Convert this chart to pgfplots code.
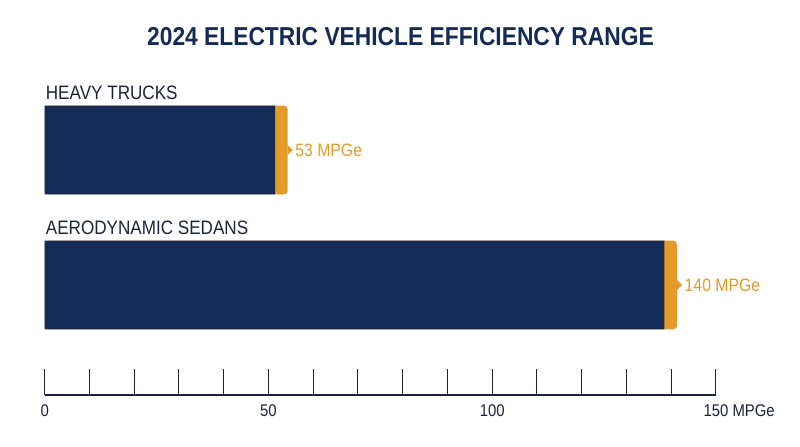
\documentclass[border=0pt]{standalone}
\usepackage{pgfplots}
\pgfplotsset{compat=1.18}
\usepackage{pgfplotstable}
\usepackage{fontspec}
\setmainfont{Liberation Sans}[FakeStretch=0.88]

\definecolor{navy}{HTML}{132B55}
\definecolor{amber}{HTML}{E39A28}
\definecolor{ink}{HTML}{1B2338}

% small right-pointing tab at the end of each bar
\pgfdeclareplotmark{pointer}{%
  \pgfpathmoveto{\pgfqpoint{0pt}{5bp}}%
  \pgfpathlineto{\pgfqpoint{5bp}{0pt}}%
  \pgfpathlineto{\pgfqpoint{0pt}{-5bp}}%
  \pgfpathclose\pgfusepathqfill}

% pos = vertical centre of the bar, v = efficiency in MPGe
\pgfplotstableread{
pos  v
297  53
162  140
}\evdata

\begin{document}
\begin{tikzpicture}
\path[use as bounding box] (0,0) rectangle (800bp,447bp);

\node[anchor=base, font=\fontsize{26}{30}\selectfont\bfseries, text=navy]
  at (400.5bp,401bp) {2024 ELECTRIC VEHICLE EFFICIENCY RANGE};

\begin{axis}[
  at={(44.7bp,52bp)}, anchor=south west,
  x=4.475bp, y=1bp,
  xmin=0, xmax=150, ymin=52, ymax=447,
  clip=false,
  axis x line*=bottom, axis y line=none,
  axis line style={ink, line width=1.3bp},
  xtick={0,10,...,150},
  xticklabels={0,,,,,50,,,,,100,,,,,150\rlap{~MPGe}},
  tick align=inside,
  major tick length=26bp,
  tick style={ink, line width=1bp},
  xticklabel style={font=\fontsize{17}{19}\selectfont, text=ink,
    anchor=base, inner sep=0pt, yshift=-21.9bp},
]
  % orange end cap (rounded), then navy body over it
  \addplot[xbar, bar shift=0pt, bar width=88.5bp, fill=amber, draw=none,
    rounded corners=3.5bp]
    table[x expr=\thisrow{v}+1.3, y=pos] \evdata;
  \addplot[xbar, bar shift=0pt, bar width=88.5bp, fill=navy, draw=none]
    table[x expr=\thisrow{v}-1.5, y=pos] \evdata;

  % pointer and value label
  \addplot[only marks, mark=pointer, amber,
    point meta=explicit symbolic,
    nodes near coords={\pgfplotspointmeta~MPGe},
    every node near coord/.append style={anchor=base west, inner sep=0pt,
      xshift=7.5bp, yshift=-6.2bp, text=amber,
      font=\fontsize{18}{20}\selectfont}]
    table[x expr=\thisrow{v}+1.3, y=pos, meta=v] \evdata;

  \node[anchor=base west, inner sep=0pt, xshift=1bp, text=ink,
    font=\fontsize{19.5}{22}\selectfont] at (axis cs:0,348) {HEAVY TRUCKS};
  \node[anchor=base west, inner sep=0pt, xshift=1bp, text=ink,
    font=\fontsize{19.5}{22}\selectfont] at (axis cs:0,213) {AERODYNAMIC SEDANS};
\end{axis}
\end{tikzpicture}
\end{document}
